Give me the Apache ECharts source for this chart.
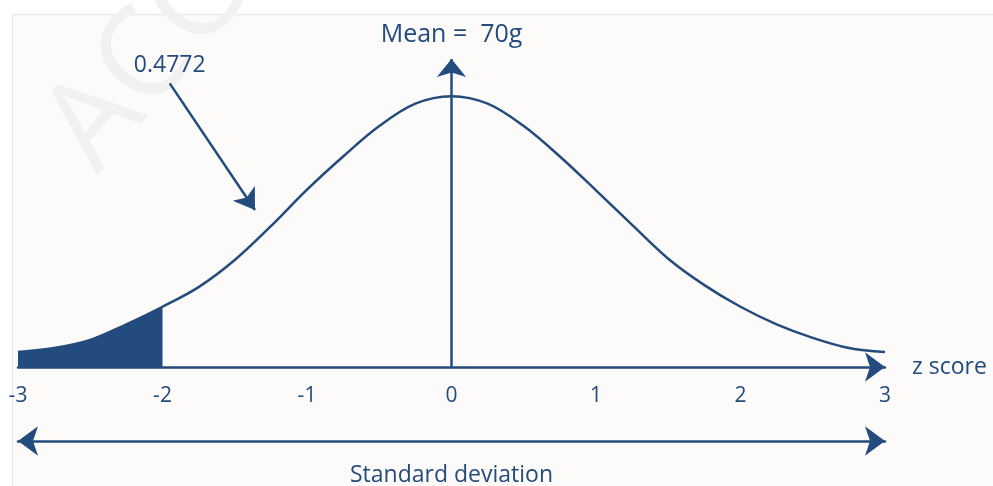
<!DOCTYPE html>
<html>
<head>
<meta charset="utf-8">
<title>Normal distribution – z score</title>
<script src="https://cdn.jsdelivr.net/npm/echarts@6/dist/echarts.min.js"></script>
<style>
  html, body { margin: 0; padding: 0; background: #ffffff; }
  #chart { width: 993px; height: 486px; }
</style>
</head>
<body>
<div id="chart"></div>
<script>
// Bell curve sampled along the z-score axis
const zScores = [-3.00, -2.75, -2.50, -2.25, -2.00, -1.75, -1.50, -1.25, -1.00, -0.75, -0.50, -0.25,
                 0.00, 0.25, 0.50, 0.75, 1.00, 1.25, 1.50, 1.75, 2.00, 2.25, 2.50, 2.75, 3.00];
const density = [0.022, 0.028, 0.040, 0.063, 0.089, 0.118, 0.158, 0.208, 0.262, 0.311, 0.356, 0.389,
                 0.400, 0.389, 0.356, 0.311, 0.261, 0.210, 0.160, 0.121, 0.089, 0.063, 0.043, 0.028, 0.022];

// Axis ticks
const tickValues = [-3, -2, -1, 0, 1, 2, 3];
const tickLabels = ['-3', '-2', '-1', '0', '1', '2', '3'];

// Shaded lower tail: everything below this z score
const tailCut = -2;

// Annotations
const meanText = 'Mean =  70g';
const areaText = '0.4772';
const areaLabelAt = [-1.95, 0.446];
const areaPointer = [[-1.95, 0.419], [-1.36, 0.232]];

const yTop = 0.455;
const ink = '#244b7d';
const font = '"Open Sans", "Noto Sans", sans-serif';

const curve = zScores.map((z, i) => [z, density[i]]);
const tail = curve.filter(p => p[0] <= tailCut);

const chart = echarts.init(document.getElementById('chart'), null, { renderer: 'canvas' });

chart.setOption({
  backgroundColor: '#ffffff',
  animation: false,
  graphic: [
    {
      type: 'rect', z: -10, silent: true,
      shape: { x: 12.5, y: 14.5, width: 1000, height: 500 },
      style: { fill: '#fcfbfa', stroke: '#e4e9f3', lineWidth: 1.5 }
    },
    {
      type: 'text', z: -9, silent: true,
      x: 118, y: 193, rotation: 0.87,
      style: { text: 'ACCA', fontSize: 125, fontFamily: font, fill: '#f2f1ef', verticalAlign: 'bottom' }
    }
  ],
  grid: { left: 18, right: 108, top: 59, bottom: 119, containLabel: false, outerBoundsMode: 'none' },
  xAxis: [
    {
      type: 'value', min: -3, max: 3, interval: 1,
      splitLine: { show: false },
      axisTick: { show: false },
      axisLine: {
        show: true, onZero: false,
        symbol: ['none', 'arrow'], symbolSize: [22, 20], symbolOffset: [0, 0],
        lineStyle: { color: ink, width: 2.5 }
      },
      axisLabel: {
        show: true, margin: 19, color: ink, fontSize: 21, fontFamily: font,
        showMinLabel: true, showMaxLabel: true,
        formatter: v => {
          const i = tickValues.indexOf(Math.round(v * 1000) / 1000);
          return i >= 0 ? tickLabels[i] : '';
        }
      },
      name: 'z score', nameLocation: 'end', nameGap: 27,
      nameTextStyle: { color: ink, fontSize: 23, fontFamily: font, verticalAlign: 'middle' }
    },
    {
      type: 'value', min: -3, max: 3, position: 'bottom', offset: 74,
      splitLine: { show: false },
      axisTick: { show: false },
      axisLabel: { show: false },
      axisLine: {
        show: true, onZero: false,
        symbol: ['arrow', 'arrow'], symbolSize: [22, 20], symbolOffset: [0, 0],
        lineStyle: { color: ink, width: 2.5 }
      },
      name: 'Standard deviation', nameLocation: 'middle', nameGap: 23,
      nameTextStyle: { color: ink, fontSize: 23, fontFamily: font }
    }
  ],
  yAxis: { type: 'value', min: 0, max: yTop, show: false },
  series: [
    {
      name: 'tail', type: 'line', xAxisIndex: 0, data: tail, smooth: 0.35,
      symbol: 'none', lineStyle: { width: 0 },
      areaStyle: { color: ink, opacity: 1 }, z: 2, silent: true
    },
    {
      name: 'curve', type: 'line', xAxisIndex: 0, data: curve, smooth: 0.35,
      symbol: 'none', lineStyle: { color: ink, width: 2.5 }, z: 3, silent: true,
      markLine: {
        silent: true, animation: false,
        symbol: ['none', 'arrow'],
        lineStyle: { color: ink, width: 2.5, type: 'solid' },
        data: [
          [
            { coord: [0, 0], symbolSize: [22, 18] },
            { coord: [0, yTop], symbolSize: [22, 18] }
          ],
          [
            { coord: areaPointer[0], symbolSize: [20, 20] },
            { coord: areaPointer[1], symbolSize: [20, 20] }
          ]
        ],
        label: { show: false }
      },
      markPoint: {
        silent: true, animation: false,
        symbol: 'circle', symbolSize: 0,
        data: [
          {
            coord: areaLabelAt,
            label: { show: true, position: 'inside', formatter: areaText, color: ink, fontSize: 23, fontFamily: font }
          },
          {
            coord: [0, yTop],
            label: { show: true, position: 'inside', offset: [0, -24], formatter: meanText, color: ink, fontSize: 25, fontFamily: font }
          }
        ]
      }
    }
  ]
});
</script>
</body>
</html>
